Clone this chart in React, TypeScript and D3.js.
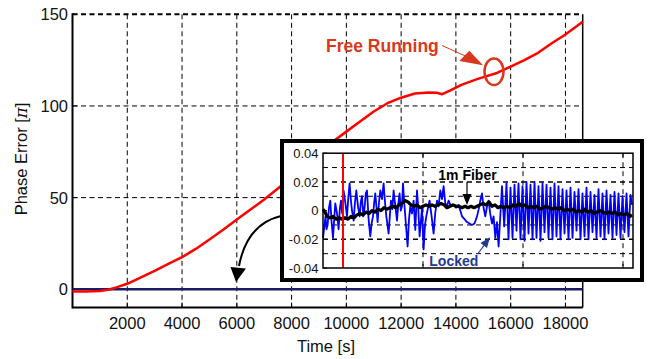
import React from 'react';
import * as d3 from 'd3';

// Main chart data: time [s], phase error [pi]
const freeRunning: [number, number][] = [
  [0, -1.2], [500, -1.2], [1000, -1.0], [1300, -0.3], [1600, 1.0], [2000, 3.0], [2500, 6.5],
  [3000, 10], [3500, 13.8], [4000, 17.5], [4500, 22], [5000, 27.2], [5500, 32.5], [6000, 38],
  [6500, 43.5], [7000, 49], [7500, 55], [8000, 61], [8500, 68], [9000, 74.5], [9500, 80.5],
  [10000, 86], [10500, 91.5], [11000, 97], [11500, 101.5], [12000, 104.5], [12500, 106.8],
  [13000, 107.3], [13300, 107.2], [13500, 106.4], [13800, 108.5], [14200, 111.5], [14800, 114.8],
  [15500, 118], [16000, 121.5], [16500, 125], [17000, 129], [17500, 134.2], [18000, 139], [18630, 146],
];
const lockedMain: [number, number][] = [[0, 0], [18630, 0]];
const xTicks = [2000, 4000, 6000, 8000, 10000, 12000, 14000, 16000, 18000];
const yTicks = [0, 50, 100, 150];

// Inset data: arbitrary time units, phase error [pi]
const insetBlue: [number, number][] = [
  [0, -0.019], [12, -0.012], [25, -0.004], [35, -0.013], [46, -0.010], [60, 0.002], [73, 0.007],
  [86, -0.008], [100, -0.019], [112, -0.006], [123, 0.005], [140, -0.002], [156, -0.013], [168, 0.001],
  [180, 0.007], [192, -0.002], [206, 0.014], [222, 0.006], [240, -0.004], [252, 0.008], [266, 0.019],
  [278, 0.008], [290, 0.000], [306, -0.007], [320, 0.006], [333, 0.014], [350, 0.003], [366, -0.004],
  [378, 0.006], [390, 0.010], [403, -0.004], [416, 0.002], [428, 0.012], [440, 0.014], [456, -0.006],
  [473, -0.018], [486, -0.009], [500, -0.004], [512, 0.006], [523, 0.012], [535, 0.002], [546, -0.008],
  [560, 0.006], [573, 0.014], [590, 0.008], [606, 0.019], [620, 0.006], [633, -0.004], [645, -0.010],
  [656, -0.016], [668, -0.004], [680, 0.007], [693, 0.001], [706, 0.014], [722, 0.004], [740, -0.007],
  [752, 0.004], [766, 0.012], [778, 0.000], [790, 0.003], [800, 0.019], [812, 0.006], [823, -0.004],
  [846, -0.025], [860, -0.006], [873, 0.003], [890, -0.002], [906, 0.007], [923, -0.0135], [940, 0.014],
  [953, 0.001], [966, -0.018], [990, 0.0015], [1006, -0.027], [1020, -0.010], [1033, -0.004],
  [1050, 0.002], [1066, 0.007], [1086, -0.004], [1106, -0.016], [1122, -0.002], [1140, 0.007],
  [1156, 0.003], [1173, 0.014], [1190, 0.008], [1206, 0.017], [1223, 0.005], [1240, 0.003], [1256, 0.007],
  [1280, 0.003], [1306, 0.004], [1330, 0.002], [1356, 0.004], [1390, -0.004], [1415, -0.006],
  [1440, -0.008], [1465, -0.009], [1490, -0.010], [1515, -0.009], [1540, -0.004], [1557, 0.001],
  [1573, 0.007], [1590, 0.012], [1606, 0.002], [1623, -0.004], [1640, 0.003], [1656, 0.007],
  [1672, -0.002], [1690, -0.009], [1706, -0.004], [1723, -0.019], [1740, -0.008], [1756, -0.025],
  [1790, 0.017], [1812, -0.011], [1835, 0.019], [1855, -0.020], [1875, 0.016], [1895, -0.019],
  [1915, 0.018], [1935, -0.014], [1955, 0.019], [1975, -0.020], [1995, 0.017], [2015, -0.021],
  [2035, 0.020], [2055, -0.016], [2075, 0.018], [2095, -0.020], [2115, 0.020], [2135, -0.019],
  [2155, 0.017], [2175, -0.021], [2195, 0.019], [2215, -0.015], [2235, 0.018], [2255, -0.019],
  [2275, 0.016], [2295, -0.020], [2315, 0.019], [2335, -0.018], [2355, 0.017], [2375, -0.020],
  [2395, 0.015], [2415, -0.016], [2435, 0.014], [2455, -0.020], [2475, 0.016], [2495, -0.019],
  [2515, 0.013], [2535, -0.014], [2555, 0.015], [2575, -0.020], [2595, 0.012], [2615, -0.018],
  [2635, 0.016], [2655, -0.020], [2675, 0.013], [2695, -0.015], [2715, 0.011], [2735, -0.019],
  [2755, 0.015], [2775, -0.018], [2795, 0.012], [2815, -0.020], [2835, 0.014], [2855, -0.016],
  [2875, 0.011], [2895, -0.019], [2915, 0.013], [2935, -0.017], [2955, 0.012], [2975, -0.019],
  [2995, 0.010], [3015, -0.015], [3035, 0.012], [3055, -0.018], [3075, 0.011], [3090, 0.004],
];
const insetBlack: [number, number][] = [
  [0, 0.001], [20, -0.001], [40, -0.004], [70, -0.005], [100, -0.004], [130, -0.006], [160, -0.005],
  [190, -0.006], [220, -0.005], [250, -0.006], [280, -0.004], [310, -0.005], [340, -0.003], [370, -0.002],
  [400, -0.003], [430, -0.001], [460, -0.002], [490, 0.000], [520, -0.001], [550, 0.001], [580, 0.000],
  [610, 0.002], [640, 0.001], [670, 0.002], [700, 0.003], [730, 0.002], [760, 0.004], [790, 0.005],
  [820, 0.007], [850, 0.006], [880, 0.004], [910, 0.003], [940, 0.004], [970, 0.002], [1000, 0.003],
  [1030, 0.004], [1060, 0.003], [1090, 0.004], [1120, 0.003], [1150, 0.004], [1180, 0.005], [1210, 0.004],
  [1240, 0.002], [1270, 0.003], [1300, 0.004], [1330, 0.003], [1360, 0.003], [1390, 0.002], [1420, 0.003],
  [1450, 0.002], [1480, 0.003], [1510, 0.002], [1540, 0.003], [1570, 0.004], [1600, 0.005], [1630, 0.004],
  [1660, 0.006], [1690, 0.003], [1720, 0.004], [1750, 0.002], [1780, 0.003], [1810, 0.002], [1840, 0.003],
  [1870, 0.002], [1900, 0.004], [1930, 0.003], [1960, 0.005], [1990, 0.003], [2020, 0.004], [2050, 0.002],
  [2080, 0.003], [2110, 0.002], [2140, 0.003], [2170, 0.001], [2200, 0.002], [2230, 0.003], [2260, 0.002],
  [2290, 0.001], [2320, 0.002], [2350, 0.001], [2380, 0.002], [2410, 0.000], [2440, 0.001], [2470, 0.000],
  [2500, 0.001], [2530, -0.001], [2560, 0.000], [2590, -0.001], [2620, 0.001], [2650, -0.001], [2680, 0.000],
  [2710, -0.002], [2740, -0.001], [2770, 0.000], [2800, -0.001], [2830, -0.002], [2860, -0.001],
  [2890, -0.002], [2920, -0.001], [2950, -0.003], [2980, -0.002], [3010, -0.003], [3040, -0.002],
  [3070, -0.004], [3090, -0.003],
];
const insetYTicks = [-0.04, -0.02, 0, 0.02, 0.04];
const insetYGrid = [-0.03, -0.02, -0.01, 0.01, 0.02, 0.03];
const insetXGrid = [1000, 2000, 3000];
const insetMarker = 200;

const FONT = "'Liberation Sans', Arial, Helvetica, sans-serif";

export default function App() {
  const x = d3.scaleLinear().domain([0, 18630]).range([72.5, 582.7]);
  const y = d3.scaleLinear().domain([-10, 150]).range([307.6, 14.3]);
  const line = d3.line<[number, number]>().x(d => x(d[0])).y(d => y(d[1]));

  const ix = d3.scaleLinear().domain([0, 3100]).range([323, 633]);
  const iy = d3.scaleLinear().domain([-0.04, 0.04]).range([268, 153.2]);
  const iline = d3.line<[number, number]>().x(d => ix(d[0])).y(d => iy(d[1]));

  const [x0, x1] = x.range();
  const [yb, yt] = y.range();
  const [ix0, ix1] = ix.range();
  const [iyb, iyt] = iy.range();

  return (
    <svg width={649} height={359} style={{ position: 'absolute', left: 0, top: 0, background: '#fff' }} fontFamily={FONT}>
      <rect x={0} y={0} width={649} height={359} fill="#fff" />
      {/* main grid */}
      {xTicks.map(t => (
        <line key={'gx' + t} x1={x(t)} x2={x(t)} y1={yt} y2={yb} stroke="#000" strokeWidth={1} strokeDasharray="5,3.5" />
      ))}
      {yTicks.filter(t => t > 0 && t < 150).map(t => (
        <line key={'gy' + t} x1={x0} x2={x1} y1={y(t)} y2={y(t)} stroke="#000" strokeWidth={1} strokeDasharray="5,3.5" />
      ))}
      {/* frame */}
      <line x1={x0} x2={x1} y1={y(150)} y2={y(150)} stroke="#000" strokeWidth={2} strokeDasharray="5,3.5" />
      <line x1={x1} x2={x1} y1={yt} y2={yb} stroke="#000" strokeWidth={1.5} />
      <line x1={x0} x2={x0} y1={yt - 1} y2={yb + 1} stroke="#000" strokeWidth={2} />
      <line x1={x0} x2={x1} y1={yb} y2={yb} stroke="#000" strokeWidth={2} />
      {xTicks.map(t => (
        <line key={'tx' + t} x1={x(t)} x2={x(t)} y1={yb} y2={yb - 5} stroke="#000" strokeWidth={1} />
      ))}
      {yTicks.map(t => (
        <line key={'ty' + t} x1={x0} x2={x0 + 5} y1={y(t)} y2={y(t)} stroke="#000" strokeWidth={1} />
      ))}
      {/* data */}
      <path d={line(lockedMain) || ''} fill="none" stroke="#1c1c66" strokeWidth={2.5} />
      <path d={line(freeRunning) || ''} fill="none" stroke="#ff0000" strokeWidth={2.5} strokeLinejoin="round" />
      {/* tick labels */}
      {yTicks.map(t => (
        <text key={'ly' + t} x={68} y={y(t) + 6} textAnchor="end" fontSize={16.5} fill="#111">{t}</text>
      ))}
      {xTicks.map(t => (
        <text key={'lx' + t} x={x(t)} y={329.3} textAnchor="middle" fontSize={16.5} fill="#111">{t}</text>
      ))}
      <text x={326} y={351.5} textAnchor="middle" fontSize={16.5} fill="#111">Time [s]</text>
      <text transform="translate(27,159) rotate(-90)" textAnchor="middle" fontSize={16.5} fill="#111">
        Phase Error [<tspan fontStyle="italic" fontFamily="'DejaVu Serif', serif">π</tspan>]
      </text>

      {/* Free running annotation */}
      <text x={326} y={51.5} fontSize={17.5} fontWeight="bold" fill="#d8391c">Free Running</text>
      <line x1={442} y1={45.5} x2={472} y2={59} stroke="#d8391c" strokeWidth={1} />
      <polygon points="483,65.3 469.3,50.7 459.3,61" fill="#d8391c" />
      <ellipse cx={494} cy={71.7} rx={9.5} ry={13.3} fill="none" stroke="#d8391c" strokeWidth={2.5} />

      {/* curved arrow from inset */}
      <path d="M281,216 Q247,224 239,266" fill="none" stroke="#000" strokeWidth={2} />
      <polygon points="236,282 230.5,267 246,268.5" fill="#000" />

      {/* inset */}
      <rect x={282} y={141} width={360} height={139} fill="#fff" stroke="#000" strokeWidth={4} />
      {insetXGrid.map(t => (
        <line key={'igx' + t} x1={ix(t)} x2={ix(t)} y1={iyt} y2={iyb} stroke="#000" strokeWidth={1} strokeDasharray="5,4" />
      ))}
      {insetYGrid.map(t => (
        <line key={'igy' + t} x1={ix0} x2={ix1} y1={iy(t)} y2={iy(t)} stroke="#000"
          strokeWidth={Math.abs(Math.abs(t) - 0.02) < 1e-9 ? 1.5 : 1} strokeDasharray="5,4" />
      ))}
      <path d={iline(insetBlue) || ''} fill="none" stroke="#0000ff" strokeWidth={1.8} strokeLinejoin="round" />
      <path d={iline(insetBlack) || ''} fill="none" stroke="#000" strokeWidth={3.2} strokeLinejoin="round" />
      <line x1={ix(insetMarker)} x2={ix(insetMarker)} y1={iyt} y2={iyb} stroke="#ff0000" strokeWidth={2} />
      <rect x={ix0} y={iyt} width={ix1 - ix0} height={iyb - iyt} fill="none" stroke="#000" strokeWidth={1.5} />
      {insetXGrid.map(t => (
        <g key={'itx' + t}>
          <line x1={ix(t)} x2={ix(t)} y1={iyb} y2={iyb - 4} stroke="#000" strokeWidth={1} />
          <line x1={ix(t)} x2={ix(t)} y1={iyt} y2={iyt + 4} stroke="#000" strokeWidth={1} />
        </g>
      ))}
      {insetYTicks.map(t => (
        <g key={'ity' + t}>
          <line x1={ix0} x2={ix0 + 4} y1={iy(t)} y2={iy(t)} stroke="#000" strokeWidth={1} />
          <text x={318.5} y={iy(t) + 4.6} textAnchor="end" fontSize={13} fill="#111">{t === 0 ? '0' : t.toFixed(2)}</text>
        </g>
      ))}
      {/* inset annotations */}
      <text x={438.3} y={180} fontSize={14} fontWeight="bold" fill="#000">1m Fiber</text>
      <line x1={467} y1={182} x2={467} y2={196} stroke="#000" strokeWidth={1.2} />
      <polygon points="467,205 462.5,194 471.5,194" fill="#000" />
      <text x={429.3} y={266} fontSize={14} fontWeight="bold" fill="#1f3a96">Locked</text>
      <line x1={477.7} y1={254} x2={485} y2={244} stroke="#1f3a96" strokeWidth={1.2} />
      <polygon points="490,237.3 480.5,243 487,248" fill="#1f3a96" />
    </svg>
  );
}
